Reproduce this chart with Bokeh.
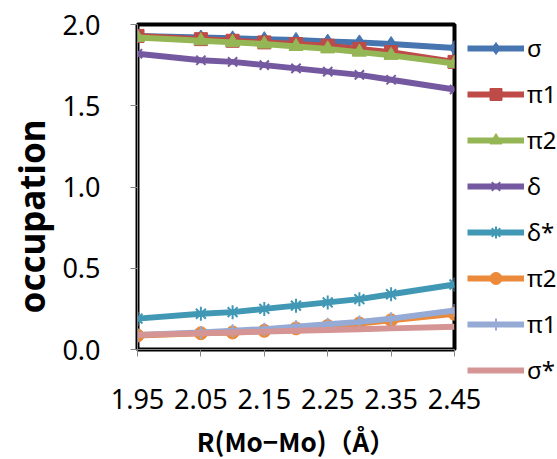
from bokeh.plotting import figure
from bokeh.models import Legend, LegendItem, FixedTicker, Range1d, CustomJSTickFormatter, Title
from bokeh.embed import file_html
from bokeh.resources import INLINE

# ---- data ----
r_values = [1.95, 2.05, 2.10, 2.15, 2.20, 2.25, 2.30, 2.35, 2.45]
series_names = ["σ", "π1", "π2", "δ", "δ*", "π2*", "π1*", "σ*"]
sigma = [1.93, 1.92, 1.915, 1.91, 1.905, 1.895, 1.89, 1.88, 1.855]
pi1 = [1.93, 1.91, 1.90, 1.89, 1.88, 1.87, 1.85, 1.83, 1.77]
pi2 = [1.92, 1.90, 1.89, 1.88, 1.865, 1.85, 1.83, 1.81, 1.76]
delta = [1.82, 1.78, 1.77, 1.75, 1.73, 1.71, 1.69, 1.66, 1.60]
delta_star = [0.19, 0.22, 0.23, 0.25, 0.27, 0.29, 0.31, 0.34, 0.40]
pi2_star = [0.086, 0.10, 0.105, 0.115, 0.13, 0.145, 0.16, 0.18, 0.22]
pi1_star = [0.09, 0.105, 0.115, 0.125, 0.14, 0.155, 0.17, 0.19, 0.24]
sigma_star = [0.09, 0.10, 0.105, 0.11, 0.115, 0.12, 0.125, 0.13, 0.14]
x_ticks = [1.95, 2.05, 2.15, 2.25, 2.35, 2.45]
y_ticks = [0.0, 0.5, 1.0, 1.5, 2.0]
x_title = "R(Mo−Mo)（Å）"
y_title = "occupation"

all_series = [sigma, pi1, pi2, delta, delta_star, pi2_star, pi1_star, sigma_star]
colors = ["#4675B0", "#BE4B48", "#95B655", "#7559A0", "#4198B5", "#EB8A3A", "#95ABD5", "#D59595"]
markers = ["diamond", "square", "triangle", "x", "asterisk", "circle", "cross", None]
marker_sizes = [15, 13, 14, 13, 14, 13, 13, 0]

p = figure(width=557, height=459, frame_width=317, frame_height=325,
           min_border_left=126, min_border_right=114, min_border_top=24, min_border_bottom=110,
           x_range=Range1d(1.95, 2.45), y_range=Range1d(0, 2.0),
           output_backend="svg", toolbar_location=None)

p.xgrid.visible = False
p.ygrid.visible = False
p.outline_line_color = "black"
p.outline_line_width = 4
p.background_fill_color = "white"
p.border_fill_color = "white"

items = []
for name, vals, c, m, ms in zip(series_names, all_series, colors, markers, marker_sizes):
    rs = []
    lr = p.line(r_values, vals, line_color=c, line_width=6)
    rs.append(lr)
    if m is not None:
        if m in ("x", "asterisk", "cross"):
            sr = p.scatter(r_values, vals, marker=m, size=ms, line_color=c, line_width=2)
        else:
            sr = p.scatter(r_values, vals, marker=m, size=ms, fill_color=c, line_color=c)
        rs.append(sr)
    items.append(LegendItem(label=name, renderers=rs))

legend = Legend(items=items, location=(13, -37), orientation="vertical",
                glyph_width=57, glyph_height=30, label_height=30, spacing=13,
                padding=0, margin=0, label_standoff=3,
                label_text_font="Noto Sans", label_text_font_size="24px",
                label_text_color="black", border_line_color=None,
                background_fill_alpha=0)
p.add_layout(legend, "right")

# axes
p.xaxis.ticker = FixedTicker(ticks=x_ticks)
p.yaxis.ticker = FixedTicker(ticks=y_ticks)
p.xaxis.formatter = CustomJSTickFormatter(code="return tick.toFixed(2);")
p.yaxis.formatter = CustomJSTickFormatter(code="return tick.toFixed(1);")
for ax in (p.xaxis, p.yaxis):
    ax.axis_line_color = "#868686"
    ax.major_tick_line_color = "#868686"
    ax.major_tick_out = 7
    ax.major_tick_in = 0
    ax.minor_tick_line_color = None
    ax.major_label_text_font = "Noto Sans"
    ax.major_label_text_font_size = "27px"
    ax.major_label_text_color = "black"
    ax.axis_label_text_color = "black"
    ax.axis_label_text_font_style = "bold"

p.xaxis.major_label_standoff = 32
p.yaxis.major_label_standoff = 30
p.xaxis.axis_label = x_title
p.xaxis.axis_label_text_font = "Noto Sans CJK JP"
p.xaxis.axis_label_text_font_size = "26px"
p.xaxis.axis_label_standoff = 10

ytitle = Title(text=y_title, align="left", offset=36, standoff=10,
               text_font="Noto Sans", text_font_size="35px", text_font_style="bold",
               text_color="black")
p.add_layout(ytitle, "left")

open("out.html", "w").write(file_html(p, INLINE))
